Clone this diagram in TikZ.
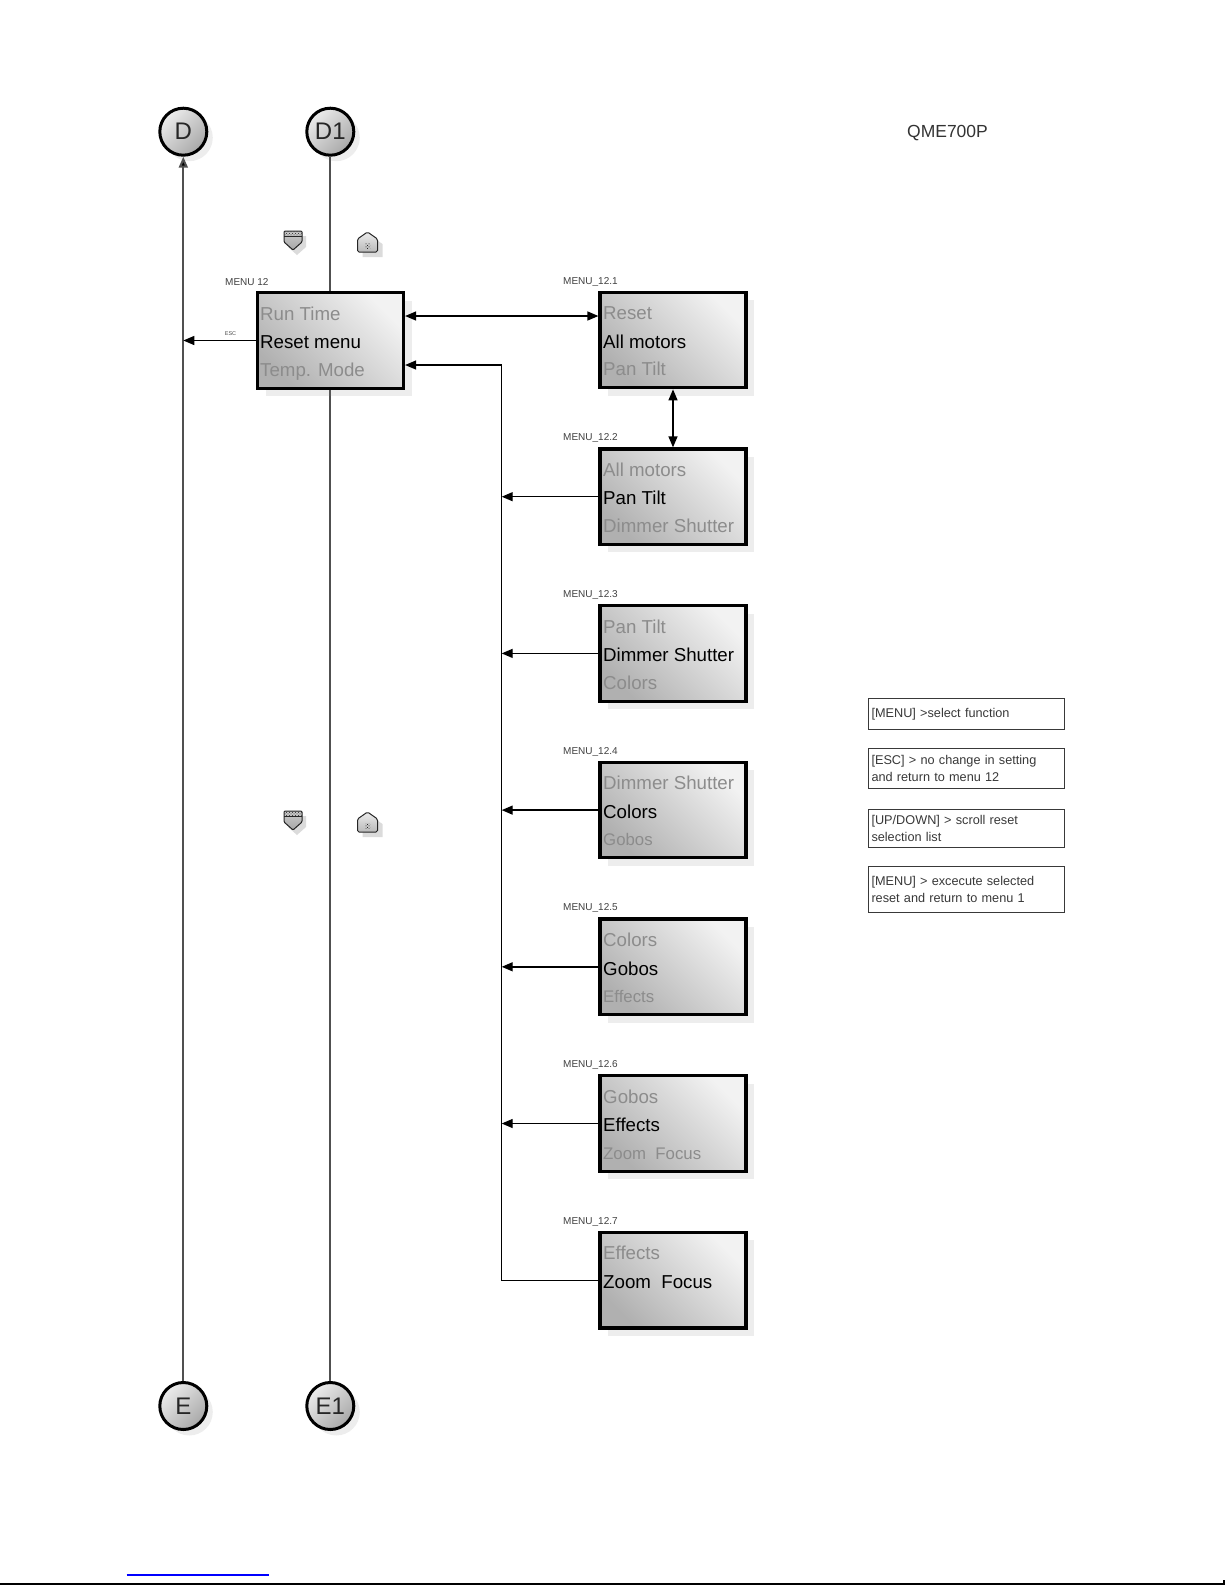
\documentclass[tikz,border=0pt]{standalone}
\usepackage{fontspec}
\setmainfont{Liberation Sans}
\usetikzlibrary{arrows.meta,shadows,patterns}
\definecolor{dim}{HTML}{8C8C8C}
\definecolor{vln}{HTML}{505050}
\definecolor{lgt}{HTML}{383838}
\newcommand\mkmenu[8]{%
  \node[menubox] (#1) at (#2,#3) {};
  \node[lbl] (#1l) at (#2-110,#3-58.5) {#4};
  \node[dimt] (#1a) at (#2-70,#3-20.3) {#5};
  \node[mtxt] (#1b) at (#2-70,#3+8.2) {#6};
  \node[#8] (#1c) at (#2-70,#3+35.7) {#7};
}
\newcommand\downicon[2]{%
  \begin{scope}[shift={(#1,#2)}]
    \fill[black!14] (-5,-4) -- (13,-4) -- (13,7) -- (4,15) -- (-5,7) -- cycle;
    \draw[gray!30!black, line width=1pt, rounded corners=1pt, top color=gray!40, bottom color=gray!70]
      (-9,-9) -- (9,-9) -- (9,2) -- (0,10) -- (-9,2) -- cycle;
    \fill[pattern=crosshatch dots, pattern color=black!85] (-8.5,-8.5) rectangle (8.5,-4);
    \draw[gray!30!black, line width=0.6pt] (-9,-4) -- (9,-4);
  \end{scope}}
\newcommand\homeicon[2]{%
  \begin{scope}[shift={(#1,#2)}]
    \fill[black!14] (-5,2) -- (5,-5) -- (15,2) -- (15,15) -- (-5,15) -- cycle;
    \draw[gray!30!black, line width=1pt, rounded corners=1.5pt, top color=gray!15, bottom color=gray!55]
      (-10,-3) -- (0,-10) -- (10,-3) -- (10,10) -- (-10,10) -- cycle;
    \fill[pattern=crosshatch dots, pattern color=black] (-2.5,1) rectangle (2.5,6);
  \end{scope}}
\begin{document}
\begin{tikzpicture}[x=1pt,y=-1pt,
  conn/.style={circle, draw=black, line width=3pt, minimum size=47pt, inner sep=0pt,
    top color=gray!15, bottom color=gray!68, shading angle=45,
    drop shadow={shadow xshift=6pt, shadow yshift=-6pt, opacity=0.14},
    font=\fontsize{24}{24}\selectfont, text=black!85},
  menubox/.style={rectangle, draw=black, line width=3.2pt, minimum width=146pt, minimum height=95.5pt, inner sep=0pt,
    top color=gray!10, bottom color=gray!62, shading angle=-45,
    drop shadow={shadow xshift=8pt, shadow yshift=-8pt, opacity=0.14}},
  mtxt/.style={anchor=base west, inner sep=0pt, font=\fontsize{18.7}{20}\selectfont, text=black},
  dimt/.style={mtxt, text=dim},
  dims/.style={anchor=base west, inner sep=0pt, font=\fontsize{16.8}{18}\selectfont, text=dim},
  lbl/.style={anchor=west, inner sep=0pt, font=\fontsize{10}{10}\selectfont, text=black!75},
  vline/.style={draw=vln, line width=2pt},
  tip/.tip={Triangle[length=11pt,width=9pt]},
  arr/.style={draw=black, line width=1.4pt, -tip},
  darr/.style={draw=black, line width=1.4pt, tip-tip},
  lgd/.style={draw=gray!45!black, line width=1pt, text width=189.5pt, align=left, inner xsep=3pt, inner ysep=0pt,
    font=\fontsize{12.7}{17}\selectfont, text=lgt, anchor=north west}]
\useasboundingbox (0,0) rectangle (1225,1585);

% connectors (circles)
\node[conn] (d) at (183.3,131.7) {D};
\node[conn] (d1) at (330.3,131.7) {D1};
\node[conn] (e) at (183.3,1406) {E};
\node[conn] (e1) at (330.3,1406) {E1};

\draw[vline] (d1) -- (e1);
\draw[vline, -{Triangle[length=11pt,width=9pt,fill=black]}] (e) -- (d);

% icons
\downicon{293}{240}
\homeicon{367.5}{242}
\downicon{293}{820}
\homeicon{367.5}{822}

% main menu
\node[menubox] (m12) at (330.5,340.5) {};
\node[lbl] (m12l) at (225,282.5) {MENU 12};
\node[dimt] (m12a) at (260,320.2) {Run Time};
\node[mtxt] (m12b) at (260,348.7) {Reset menu};
\node[dimt] (m12c) at (260,376.2) {Temp. Mode};

% sub menus
\mkmenu{m121}{673}{340}{MENU\_12.1}{Reset}{All motors}{Pan Tilt}{dimt}
\mkmenu{m122}{673}{496.7}{MENU\_12.2}{All motors}{Pan Tilt}{Dimmer Shutter}{dimt}
\mkmenu{m123}{673}{653.4}{MENU\_12.3}{Pan Tilt}{Dimmer Shutter}{Colors}{dimt}
\mkmenu{m124}{673}{810.1}{MENU\_12.4}{Dimmer Shutter}{Colors}{Gobos}{dims}
\mkmenu{m125}{673}{966.8}{MENU\_12.5}{Colors}{Gobos}{Effects}{dims}
\mkmenu{m126}{673}{1123.5}{MENU\_12.6}{Gobos}{Effects}{Zoom\ \ Focus}{dims}
\mkmenu{m127}{673}{1280.2}{MENU\_12.7}{Effects}{Zoom\ \ Focus}{}{dims}

% arrows
\coordinate (rx) at (501.7,0);
\coordinate (m12in) at ([yshift=-24.5pt]m12.east);
\coordinate (m12out) at ([yshift=24.5pt]m12.east);
\draw[arr] (m12.west) -- (d |- m12.west);
\node[inner sep=0pt, font=\fontsize{5.5}{6}\selectfont, text=black!70] (esc) at (230.5,333.5) {ESC};
\draw[darr] (m12out) -- (m12out -| m121.west);
\draw[darr] (m121.south) -- (m122.north);
\draw[arr] (m127.west) -- (rx |- m127.west) -- (rx |- m12in) -- (m12in);
\draw[arr] (m122.west) -- (rx |- m122.west);
\draw[arr] (m123.west) -- (rx |- m123.west);
\draw[arr] (m124.west) -- (rx |- m124.west);
\draw[arr] (m125.west) -- (rx |- m125.west);
\draw[arr] (m126.west) -- (rx |- m126.west);

% title
\node[inner sep=0pt, font=\fontsize{17.5}{18}\selectfont, text=black!80] (title) at (947.5,133) {QME700P};

% legend
\node[lgd, minimum height=31pt] (g1) at (868,698) {[MENU] >select function};
\node[lgd, minimum height=40pt] (g2) at (868,748) {[ESC] > no change in setting\\and return to menu 12};
\node[lgd, minimum height=38pt] (g3) at (868,809) {[UP/DOWN] > scroll reset\\selection list};
\node[lgd, minimum height=46pt] (g4) at (868,866) {[MENU] > excecute selected\\reset and return to menu 1};

% page footer lines
\draw[blue, line width=1.2pt] (126.7,1575) -- (269,1575);
\draw[black, line width=1.6pt] (0,1584) -- (1224,1584) -- (1224,1580);
\end{tikzpicture}
\end{document}
